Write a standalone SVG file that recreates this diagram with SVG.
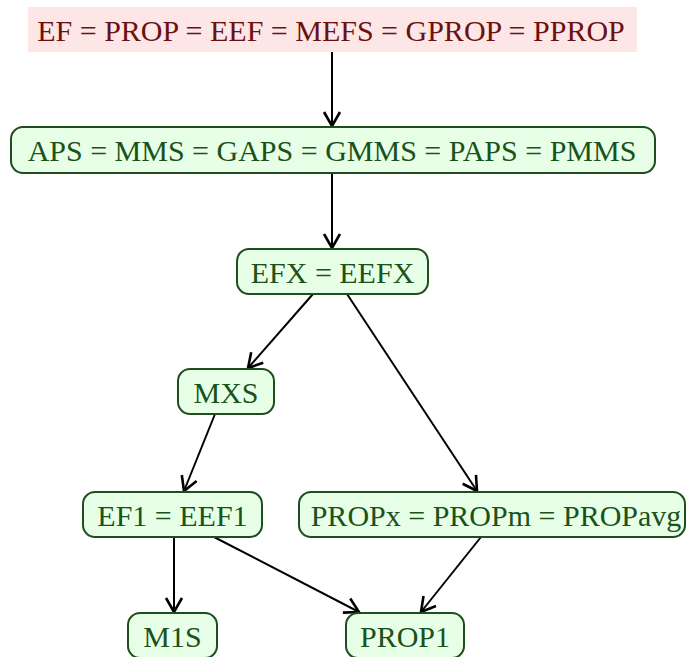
<svg xmlns="http://www.w3.org/2000/svg" width="686" height="657" viewBox="0 0 686 657">
<defs>
<marker id="arr" viewBox="-16 -10 18 20" refX="0" refY="0" markerWidth="18" markerHeight="20" markerUnits="userSpaceOnUse" orient="auto">
<path d="M-14,-8 L0,0 L-14,8" fill="none" stroke="#000" stroke-width="2.6"/>
</marker>
</defs>
<style>
.t{font-family:"Liberation Serif","Times New Roman",serif;font-size:30px;text-anchor:middle}
.g rect{fill:#e6ffe6;stroke:#1e4d1e;stroke-width:2}
.g text{fill:#1a521a}
.p rect{fill:#fde6e6}
.p text{fill:#6e1010}
.e line{stroke:#000;stroke-width:2;marker-end:url(#arr)}
</style>
<g class="e" id="edges">
<line x1="332" y1="52" x2="332" y2="126"/>
<line x1="332" y1="173" x2="332" y2="248"/>
<line x1="313" y1="294" x2="248" y2="368"/>
<line x1="347" y1="294" x2="477" y2="491"/>
<line x1="215" y1="414" x2="184" y2="491"/>
<line x1="174" y1="537" x2="174" y2="612"/>
<line x1="214" y1="537" x2="359" y2="612"/>
<line x1="481" y1="537" x2="421" y2="612"/>
</g>
<g class="p" id="n_ef"><rect x="28" y="7" width="609" height="45"/><text class="t" x="331" y="41">EF = PROP = EEF = MEFS = GPROP = PPROP</text></g>
<g class="g" id="n_aps"><rect x="11" y="127" width="644" height="46" rx="12"/><text class="t" x="332" y="161">APS = MMS = GAPS = GMMS = PAPS = PMMS</text></g>
<g class="g" id="n_efx"><rect x="237" y="249" width="191" height="45" rx="12"/><text class="t" x="332.5" y="283">EFX = EEFX</text></g>
<g class="g" id="n_mxs"><rect x="178" y="369" width="96" height="45" rx="12"/><text class="t" x="226" y="403">MXS</text></g>
<g class="g" id="n_ef1"><rect x="83" y="492" width="179" height="45" rx="12"/><text class="t" x="172.5" y="526">EF1 = EEF1</text></g>
<g class="g" id="n_propx"><rect x="299" y="492" width="386" height="45" rx="12"/><text class="t" x="496" y="526">PROPx = PROPm = PROPavg</text></g>
<g class="g" id="n_m1s"><rect x="128" y="613" width="89" height="45" rx="12"/><text class="t" x="172.5" y="647">M1S</text></g>
<g class="g" id="n_prop1"><rect x="346" y="613" width="118" height="45" rx="12"/><text class="t" x="405" y="647">PROP1</text></g>
</svg>
